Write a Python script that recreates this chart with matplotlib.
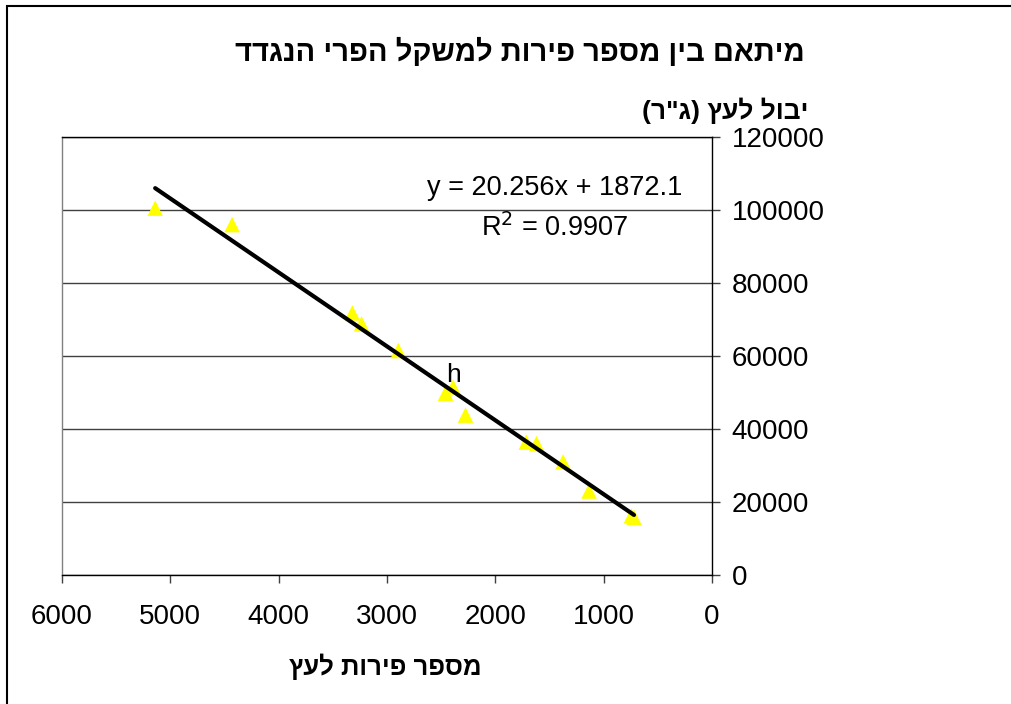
import matplotlib
matplotlib.use('Agg')
import matplotlib.pyplot as plt
from matplotlib.patches import Rectangle
import numpy as np

plt.rcParams['font.family'] = ['Liberation Sans', 'DejaVu Sans']

# Hebrew strings (logical order)
title = 'מיתאם בין מספר פירות למשקל הפרי הנגדד'
x_label = 'מספר פירות לעץ'
y_label = 'יבול לעץ (ג"ר)'
point_label = 'h'

# data
fruits = [5140, 4430, 3320, 3235, 2895, 2390, 2460, 2275, 1715, 1620, 1375, 1135, 745, 720]
yield_g = [100500, 96000, 71800, 68800, 61500, 51500, 49800, 43800, 36400, 36000, 31000, 23000, 16200, 15800]
labelled_idx = 5

# trendline as printed on the chart
slope = 20.256
intercept = 1872.1
r2 = 0.9907

x_ticks = [6000, 5000, 4000, 3000, 2000, 1000, 0]
y_ticks = [0, 20000, 40000, 60000, 80000, 100000, 120000]


def heb(s):
    # matplotlib has no bidi, so flip to visual order
    swap = {'(': ')', ')': '('}
    return ''.join(swap.get(c, c) for c in s[::-1])


fig = plt.figure(figsize=(10.11, 7.04), dpi=100)
ax = fig.add_axes([62 / 1011, 129 / 704, 650 / 1011, 438 / 704])

# outer chart border (right and bottom run off the picture)
fig.patches.append(Rectangle((7 / 1011, -0.1), 1.2, 1.1 - 6 / 704, transform=fig.transFigure,
                             fill=False, edgecolor='black', linewidth=1.5))

ax.set_xlim(6000, 0)
ax.set_ylim(0, 120000)
ax.set_xticks(x_ticks)
ax.set_yticks(y_ticks)
ax.set_xticklabels([str(t) for t in x_ticks])
ax.set_yticklabels([str(t) for t in y_ticks])

ax.yaxis.tick_right()
ax.grid(axis='y', color='#404040', linewidth=1)
ax.set_axisbelow(True)
ax.tick_params(axis='both', direction='out', length=6, width=1, labelsize=20, color='#404040')
ax.tick_params(axis='x', pad=15)
ax.tick_params(axis='y', pad=8)

ax.spines['left'].set_color('#808080')
ax.spines['top'].set_color('black')
for s in ['left', 'top', 'right', 'bottom']:
    ax.spines[s].set_linewidth(1)

ax.scatter(fruits, yield_g, marker='^', s=125, c='#FFFF00', edgecolors='none', zorder=3)

xs = np.array([min(fruits), max(fruits)])
ax.plot(xs, slope * xs + intercept, color='black', linewidth=3, solid_capstyle='round', zorder=4)

ax.annotate(point_label, (fruits[labelled_idx], yield_g[labelled_idx]), xytext=(0, 0),
            textcoords='offset points', ha='center', va='bottom', fontsize=19, zorder=5)

ax.text(555 / 1011, 1 - 188 / 704, f'y = {slope}x + {intercept}', transform=fig.transFigure,
        ha='center', va='center', fontsize=19.5)
ax.text(555 / 1011, 1 - 228 / 704, f'R$^2$ = {r2}', transform=fig.transFigure,
        ha='center', va='center', fontsize=19.5)

fig.text(520 / 1011, 1 - 52 / 704, heb(title), ha='center', va='center',
         fontsize=21, fontweight='bold')
fig.text(808 / 1011, 1 - 111 / 704, heb(y_label), ha='right', va='center',
         fontsize=19, fontweight='bold')
fig.text(385 / 1011, 1 - 667 / 704, heb(x_label), ha='center', va='center',
         fontsize=18.5, fontweight='bold')

fig.savefig('out.png', dpi=100)
